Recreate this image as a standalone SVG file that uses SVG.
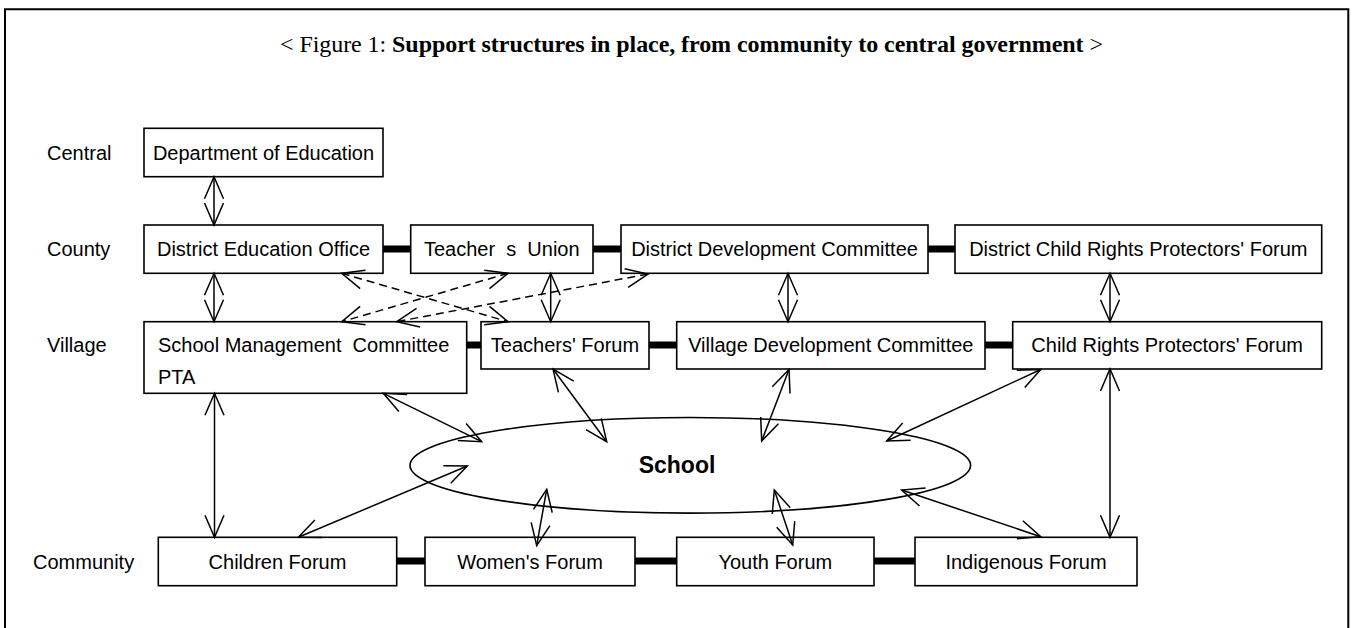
<svg xmlns="http://www.w3.org/2000/svg" width="1354" height="628" viewBox="0 0 1354 628">
<style>
.box{fill:#fff;stroke:#000;stroke-width:1.6}
.t{font-family:"Liberation Sans",Arial,sans-serif;font-size:20px;fill:#000}
.c{text-anchor:middle}
.lbl{font-family:"Liberation Sans",Arial,sans-serif;font-size:20px;fill:#000}
.bar{stroke:#000;stroke-width:7;fill:none}
.arr{stroke:#000;stroke-width:1.5;fill:none;marker-start:url(#ah);marker-end:url(#ah)}
.dash{stroke-dasharray:8 5}
</style>
<defs>
<marker id="ah" viewBox="-25 -12 27 24" refX="0" refY="0" markerWidth="27" markerHeight="24" markerUnits="userSpaceOnUse" orient="auto-start-reverse">
<path d="M-22,-9.5 L0,0 L-22,9.5" fill="none" stroke="#000" stroke-width="1.5"/>
</marker>
</defs>
<rect width="1354" height="628" fill="#fff"/>
<path d="M5,640 V9.3 H1348.3 V640" fill="none" stroke="#000" stroke-width="2"/>
<text x="280" y="52" font-family="'Liberation Serif','Times New Roman',serif" font-size="24" textLength="823">&lt; Figure 1: <tspan font-weight="bold">Support structures in place, from community to central government</tspan> &gt;</text>

<g id="row-labels">
<text class="lbl" x="47" y="160">Central</text>
<text class="lbl" x="47" y="256">County</text>
<text class="lbl" x="47" y="351.5">Village</text>
<text class="lbl" x="33" y="568.5">Community</text>
</g>

<g id="bars">
<line class="bar" x1="383" y1="249" x2="410.7" y2="249"/>
<line class="bar" x1="593" y1="249" x2="621" y2="249"/>
<line class="bar" x1="928" y1="249" x2="955" y2="249"/>
<line class="bar" x1="466.7" y1="345" x2="481" y2="345"/>
<line class="bar" x1="649" y1="345" x2="676.7" y2="345"/>
<line class="bar" x1="985" y1="345" x2="1012.7" y2="345"/>
<line class="bar" x1="396.7" y1="561" x2="425" y2="561"/>
<line class="bar" x1="635" y1="561" x2="676.7" y2="561"/>
<line class="bar" x1="874" y1="561" x2="915" y2="561"/>
</g>

<g id="n-dept"><rect class="box" x="144" y="128.3" width="239" height="48.4"/><text class="t c" x="263.5" y="159.8">Department of Education</text></g>
<g id="n-deo"><rect class="box" x="144" y="225" width="239" height="48.3"/><text class="t c" x="263.5" y="256">District Education Office</text></g>
<g id="n-tu"><rect class="box" x="410.7" y="225" width="182.3" height="48.3"/><text class="t c" x="501.8" y="256">Teacher&#160;&#160;s&#160;&#160;Union</text></g>
<g id="n-ddc"><rect class="box" x="621" y="225" width="307" height="48.3"/><text class="t c" x="774.5" y="256">District Development Committee</text></g>
<g id="n-dcrpf"><rect class="box" x="955" y="225" width="366.7" height="48.3"/><text class="t c" x="1138.3" y="256">District Child Rights Protectors' Forum</text></g>

<g id="n-smc"><rect class="box" x="144" y="321.7" width="322.7" height="71.6"/><text class="t" x="158" y="351.5">School Management&#160;&#160;Committee</text><text class="t" x="158" y="384">PTA</text></g>
<g id="n-tf"><rect class="box" x="481" y="321.7" width="168" height="47.3"/><text class="t c" x="565" y="351.5">Teachers' Forum</text></g>
<g id="n-vdc"><rect class="box" x="676.7" y="321.7" width="308.3" height="47.3"/><text class="t c" x="830.8" y="351.5">Village Development Committee</text></g>
<g id="n-crpf"><rect class="box" x="1012.7" y="321.7" width="309" height="47.3"/><text class="t c" x="1167.2" y="351.5">Child Rights Protectors' Forum</text></g>

<g id="n-school"><ellipse cx="690.3" cy="465.3" rx="280.3" ry="47.8" fill="#fff" stroke="#000" stroke-width="1.6"/><text x="677" y="473.3" text-anchor="middle" font-family="'Liberation Sans',Arial,sans-serif" font-size="23" font-weight="bold">School</text></g>

<g id="n-cf"><rect class="box" x="158.3" y="537.3" width="238.4" height="48.4"/><text class="t c" x="277.5" y="568.5">Children Forum</text></g>
<g id="n-wf"><rect class="box" x="425" y="537.3" width="210" height="48.4"/><text class="t c" x="530" y="568.5">Women's Forum</text></g>
<g id="n-yf"><rect class="box" x="676.7" y="537.3" width="197.3" height="48.4"/><text class="t c" x="775.3" y="568.5">Youth Forum</text></g>
<g id="n-if"><rect class="box" x="915" y="537.3" width="222" height="48.4"/><text class="t c" x="1026" y="568.5">Indigenous Forum</text></g>

<g id="connectors">
<path class="arr" d="M214,176.7 L214,225"/>
<path class="arr" d="M214,273.3 L214,321.7"/>
<path class="arr" d="M550.7,273.3 L550.7,321.7"/>
<path class="arr" d="M788,273.3 L788,321.7"/>
<path class="arr" d="M1110,273.3 L1110,321.7"/>
<path class="arr dash" d="M341.7,273.3 L508,321.7"/>
<path class="arr dash" d="M508,273.3 L341.7,321.7"/>
<path class="arr dash" d="M648,274 L396.7,321.7"/>
<path class="arr" d="M214.5,393.3 L214.5,537.3"/>
<path class="arr" d="M383.3,393.3 L481.7,441.7"/>
<path class="arr" d="M553,369 L606.7,441.7"/>
<path class="arr" d="M789,369.5 L761.7,441"/>
<path class="arr" d="M1040.7,369.5 L886.7,441"/>
<path class="arr" d="M298.3,537.3 L467.3,466"/>
<path class="arr" d="M546.7,489.3 L536.7,545.7"/>
<path class="arr" d="M774.3,490 L792.7,545"/>
<path class="arr" d="M901.7,490 L1040.7,536.7"/>
<path class="arr" d="M1110,369 L1110,537.3"/>
</g>
</svg>
